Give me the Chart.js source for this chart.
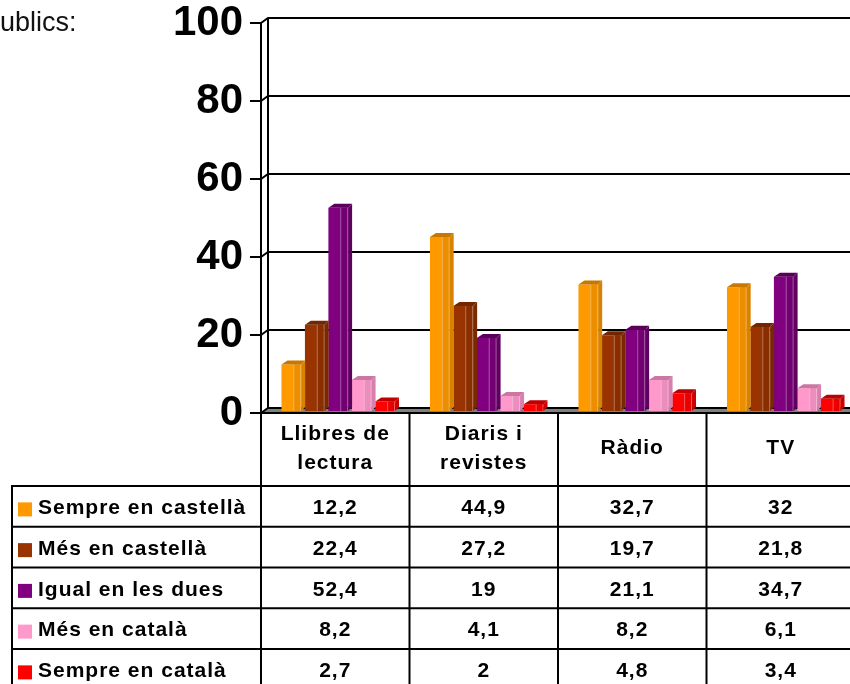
<!DOCTYPE html>
<html>
<head>
<meta charset="utf-8">
<script src="https://cdn.jsdelivr.net/npm/chart.js@4/dist/chart.umd.min.js"></script>
<style>
  html, body { margin: 0; padding: 0; background: #fff; overflow: hidden; }
  canvas { display: block; }
</style>
</head>
<body>
<canvas id="mitjans-chart" width="860" height="684"></canvas>
<script>
const categories = [['Llibres de', 'lectura'], ['Diaris i', 'revistes'], 'Ràdio', 'TV'];
const seriesNames = ['Sempre en castellà', 'Més en castellà', 'Igual en les dues', 'Més en català', 'Sempre en català'];
const sempreCastella = [12.2, 44.9, 32.7, 32];
const mesCastella = [22.4, 27.2, 19.7, 21.8];
const igualDues = [52.4, 19, 21.1, 34.7];
const mesCatala = [8.2, 4.1, 8.2, 6.1];
const sempreCatala = [2.7, 2, 4.8, 3.4];
const yTicks = [0, 20, 40, 60, 80, 100];

const frontColors = ['#FF9900', '#993300', '#800080', '#FF99CC', '#FF0000'];
const shadeColors = ['#EC8E00', '#8A2E00', '#730073', '#EC8EBD', '#E80000'];
const sideColors = ['#D98200', '#7A2800', '#600060', '#D97FAD', '#CC0000'];
const topColors = ['#C87800', '#732600', '#5A005A', '#CC77A3', '#C00000'];

const FONT = '"Liberation Sans", Arial, sans-serif';
const WALL_DX = 7, WALL_DY = 5;
const BAR_DX = 4, BAR_DY = 4;
const HEADER_BOTTOM = 486;
const ROW_H = 40.75;

// back wall, floor and grid lines behind the bars
const wallPlugin = {
    id: 'wall',
    beforeDatasetsDraw(chart) {
        const ctx = chart.ctx;
        const { left, right, top, bottom } = chart.chartArea;
        const y = chart.scales.y;
        ctx.save();
        ctx.fillStyle = '#808080';
        ctx.beginPath();
        ctx.moveTo(left, bottom);
        ctx.lineTo(left + WALL_DX, bottom - WALL_DY);
        ctx.lineTo(right + WALL_DX, bottom - WALL_DY);
        ctx.lineTo(right, bottom);
        ctx.closePath();
        ctx.fill();

        ctx.strokeStyle = '#000';
        ctx.lineWidth = 2;
        yTicks.forEach(v => {
            const py = y.getPixelForValue(v);
            ctx.beginPath();
            ctx.moveTo(left, py);
            ctx.lineTo(left + WALL_DX, py - WALL_DY);
            ctx.lineTo(right + WALL_DX, py - WALL_DY);
            ctx.stroke();
        });
        ctx.beginPath();
        ctx.moveTo(left, top);
        ctx.lineTo(left, bottom);
        ctx.moveTo(left + WALL_DX, top - WALL_DY);
        ctx.lineTo(left + WALL_DX, bottom - WALL_DY);
        ctx.moveTo(left, bottom);
        ctx.lineTo(right, bottom);
        ctx.stroke();
        ctx.restore();
    }
};

// bars stand half way into the depth; add side and top faces
const bar3dPlugin = {
    id: 'bar3d',
    beforeDatasetsDraw(chart) {
        chart.ctx.save();
        chart.ctx.translate(3, -1);
    },
    afterDatasetsDraw(chart) {
        const ctx = chart.ctx;
        chart.getSortedVisibleDatasetMetas().forEach(meta => {
            const i = meta.index;
            meta.data.forEach(el => {
                const { x, y, base, width } = el.getProps(['x', 'y', 'base', 'width'], true);
                const xl = x - width / 2, xr = x + width / 2;
                const split = x + width * 0.1;
                ctx.fillStyle = shadeColors[i];
                ctx.fillRect(split, y, xr - split, base - y);
                ctx.strokeStyle = 'rgba(255,255,255,0.35)';
                ctx.lineWidth = 1;
                ctx.beginPath();
                ctx.moveTo(split + 0.5, y);
                ctx.lineTo(split + 0.5, base);
                ctx.moveTo(xr - 0.5, y);
                ctx.lineTo(xr - 0.5, base);
                ctx.stroke();

                ctx.fillStyle = sideColors[i];
                ctx.beginPath();
                ctx.moveTo(xr, y);
                ctx.lineTo(xr + BAR_DX, y - BAR_DY);
                ctx.lineTo(xr + BAR_DX, base - BAR_DY);
                ctx.lineTo(xr, base);
                ctx.closePath();
                ctx.fill();

                ctx.fillStyle = topColors[i];
                ctx.beginPath();
                ctx.moveTo(xl, y);
                ctx.quadraticCurveTo(xl + width * 0.3, y - BAR_DY, xl + BAR_DX + 2, y - BAR_DY);
                ctx.lineTo(xr + BAR_DX, y - BAR_DY);
                ctx.lineTo(xr, y);
                ctx.closePath();
                ctx.fill();
            });
        });
        ctx.restore();
    }
};

// data table under the plot, with the legend keys in its first column
const tablePlugin = {
    id: 'dataTable',
    afterDraw(chart) {
        const ctx = chart.ctx;
        const xs = chart.scales.x;
        const { left, right, bottom } = chart.chartArea;
        const colW = (right - left) / categories.length;
        const tableBottom = HEADER_BOTTOM + ROW_H * seriesNames.length;
        ctx.save();
        ctx.strokeStyle = '#000';
        ctx.lineWidth = 2;
        ctx.beginPath();
        for (let c = 0; c <= categories.length; c++) {
            const cx = left + c * colW;
            ctx.moveTo(cx, bottom);
            ctx.lineTo(cx, tableBottom);
        }
        ctx.moveTo(12, HEADER_BOTTOM);
        ctx.lineTo(12, tableBottom);
        for (let r = 0; r <= seriesNames.length; r++) {
            const ry = HEADER_BOTTOM + r * ROW_H;
            ctx.moveTo(11, ry);
            ctx.lineTo(right, ry);
        }
        ctx.stroke();

        ctx.fillStyle = '#000';
        ctx.font = 'bold 21px ' + FONT;
        ctx.letterSpacing = '1px';
        ctx.textAlign = 'center';
        ctx.textBaseline = 'middle';
        const headMid = (bottom + HEADER_BOTTOM) / 2 - 1;
        categories.forEach((cat, c) => {
            const cx = xs.getPixelForValue(c);
            const lines = Array.isArray(cat) ? cat : [cat];
            lines.forEach((ln, k) => {
                const ly = headMid + (k - (lines.length - 1) / 2) * 29;
                ctx.fillText(ln, cx, ly);
            });
        });

        const series = [sempreCastella, mesCastella, igualDues, mesCatala, sempreCatala];
        series.forEach((vals, r) => {
            const ry = HEADER_BOTTOM + r * ROW_H + ROW_H / 2 + 2;
            vals.forEach((v, c) => {
                ctx.textAlign = 'center';
                ctx.fillText(String(v).replace('.', ','), xs.getPixelForValue(c), ry);
            });
            ctx.fillStyle = frontColors[r];
            ctx.fillRect(18, ry - 6, 14, 14);
            ctx.fillStyle = '#000';
            ctx.textAlign = 'left';
            ctx.fillText(seriesNames[r], 38, ry);
        });

        ctx.letterSpacing = '0px';
        ctx.font = '27px ' + FONT;
        ctx.textAlign = 'left';
        ctx.textBaseline = 'alphabetic';
        ctx.fillStyle = '#111';
        ctx.fillText('ublics:', 0, 31);
        ctx.restore();
    }
};

const datasets = [sempreCastella, mesCastella, igualDues, mesCatala, sempreCatala].map((data, i) => ({
    label: seriesNames[i],
    data: data,
    backgroundColor: frontColors[i],
    borderWidth: 0,
    categoryPercentage: 0.79,
    barPercentage: 0.84
}));

new Chart(document.getElementById('mitjans-chart').getContext('2d'), {
    type: 'bar',
    data: { labels: categories, datasets: datasets },
    options: {
        responsive: false,
        animation: false,
        layout: { padding: { top: 23, right: 5, bottom: 271, left: 0 } },
        plugins: {
            legend: { display: false },
            tooltip: { enabled: false }
        },
        scales: {
            x: { display: false },
            y: {
                min: 0,
                max: 100,
                afterFit(scale) {
                    scale.width = 261;
                    scale.paddingTop = 0;
                    scale.paddingBottom = 0;
                },
                afterBuildTicks(scale) { scale.ticks = yTicks.map(v => ({ value: v })); },
                ticks: {
                    color: '#000',
                    padding: 7,
                    font: { family: FONT, size: 42, weight: 'bold' }
                },
                grid: {
                    drawOnChartArea: false,
                    drawTicks: true,
                    tickLength: 11,
                    color: '#000',
                    lineWidth: 2
                },
                border: { display: false }
            }
        }
    },
    plugins: [wallPlugin, bar3dPlugin, tablePlugin]
});
</script>
</body>
</html>
